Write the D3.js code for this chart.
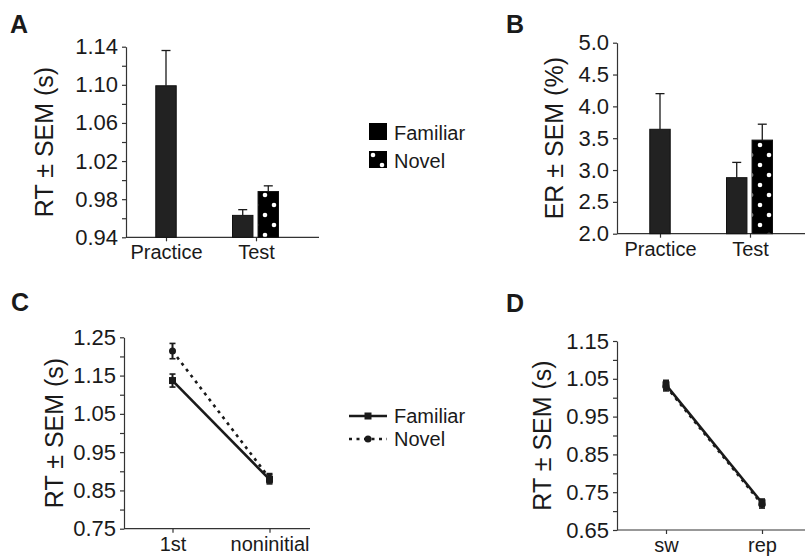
<!DOCTYPE html>
<html lang="en">
<head>
<meta charset="UTF-8" />
<title>RT and ER: Familiar vs Novel</title>
<script src="https://d3js.org/d3.v7.min.js"></script>
<style>
  body { margin: 0; background: #fff; }
  svg { display: block; font-family: "Liberation Sans", Arial, sans-serif; }
  .axis path, .axis line { stroke: #333; stroke-width: 1.2; }
  .axis text { font-size: 20px; fill: #1a1a1a; }
  .yaxis text { font-size: 22px; }
  .ylabel { font-size: 25px; fill: #1a1a1a; }
  .panel-letter { font-size: 25px; font-weight: bold; fill: #1a1a1a; }
  .legend text { font-size: 20px; fill: #1a1a1a; }
</style>
</head>
<body>
<div id="chart"></div>
<script>
// --- data ---
const conditions = ["Familiar", "Novel"];

// A: RT in practice / test blocks
const barCats = ["Practice", "Test"];
const aGroup = ["Practice", "Test", "Test"];
const aCond = ["Familiar", "Familiar", "Novel"];
const aMean = [1.099, 0.963, 0.988];
const aSem = [0.037, 0.006, 0.006];
const aTicks = [0.94, 0.98, 1.02, 1.06, 1.10, 1.14];
const aMinor = [0.96, 1.00, 1.04, 1.08, 1.12];

// B: error rate
const bGroup = ["Practice", "Test", "Test"];
const bCond = ["Familiar", "Familiar", "Novel"];
const bMean = [3.64, 2.88, 3.47];
const bSem = [0.56, 0.24, 0.25];
const bTicks = [2.0, 2.5, 3.0, 3.5, 4.0, 4.5, 5.0];

// C: first vs noninitial trial
const cCats = ["1st", "noninitial"];
const cFamiliar = [1.137, 0.879];
const cNovel = [1.214, 0.882];
const cFamSem = [0.017, 0.012];
const cNovSem = [0.020, 0.012];
const cTicks = [0.75, 0.85, 0.95, 1.05, 1.15, 1.25];
const cMinor = [0.80, 0.90, 1.00, 1.10, 1.20];

// D: switch vs repeat
const dCats = ["sw", "rep"];
const dFamiliar = [1.034, 0.722];
const dNovel = [1.030, 0.718];
const dFamSem = [0.012, 0.010];
const dNovSem = [0.012, 0.010];
const dTicks = [0.65, 0.75, 0.85, 0.95, 1.05, 1.15];
const dMinor = [0.70, 0.80, 0.90, 1.00, 1.10];

const ink = "#1a1a1a";
const W = 805, H = 558;

const svg = d3.select("#chart").append("svg")
  .attr("width", W).attr("height", H);

// dotted fill for the Novel bars
const defs = svg.append("defs");
const pat = defs.append("pattern")
  .attr("id", "dots")
  .attr("patternUnits", "userSpaceOnUse")
  .attr("width", 18).attr("height", 20);
pat.append("rect").attr("width", 18).attr("height", 20).attr("fill", "#000");
pat.append("circle").attr("cx", 4).attr("cy", 5).attr("r", 2.3).attr("fill", "#fff");
pat.append("circle").attr("cx", 13).attr("cy", 15).attr("r", 2.3).attr("fill", "#fff");

// builds axes for one panel, returns scales
function panel(opt) {
  const y = d3.scaleLinear().domain(opt.yDomain).range([opt.bottom, opt.top]);
  const x = d3.scalePoint().domain(opt.cats).range(opt.catRange);

  const g = svg.append("g");

  // y axis, major + minor ticks
  g.append("g").attr("class", "axis yaxis")
    .attr("transform", `translate(${opt.left},0)`)
    .call(d3.axisLeft(y).tickValues(opt.ticks).tickFormat(d3.format(opt.fmt))
      .tickSize(4).tickPadding(4).tickSizeOuter(0));
  if (opt.minor) {
    g.append("g").attr("class", "axis")
      .attr("transform", `translate(${opt.left},0)`)
      .call(d3.axisLeft(y).tickValues(opt.minor).tickFormat("").tickSize(4).tickSizeOuter(0))
      .call(s => s.select(".domain").remove());
  }

  // x axis: long baseline + category ticks
  g.append("line").attr("class", "xbase")
    .attr("x1", opt.left).attr("x2", opt.right)
    .attr("y1", opt.bottom).attr("y2", opt.bottom)
    .attr("stroke", "#333").attr("stroke-width", 1.2);
  g.append("g").attr("class", "axis")
    .attr("transform", `translate(0,${opt.bottom})`)
    .call(d3.axisBottom(x).tickSize(4).tickPadding(4).tickSizeOuter(0))
    .call(s => s.select(".domain").remove());

  // y label
  g.append("text").attr("class", "ylabel")
    .attr("transform", `translate(${opt.labelX},${(opt.top + opt.bottom) / 2}) rotate(-90)`)
    .attr("text-anchor", "middle")
    .text(opt.ylabel);

  // panel letter
  g.append("text").attr("class", "panel-letter")
    .attr("x", opt.letterX).attr("y", opt.letterY)
    .text(opt.letter);

  return { x, y, g };
}

function bars(p, groups, conds, means, sems, base) {
  const off = d3.scaleBand().domain(conditions).range([-23, 23]).paddingInner(0.2);
  const rows = means.map((m, i) => ({ g: groups[i], c: conds[i], m, s: sems[i] }));
  const single = g => groups.filter(v => v === g).length === 1;
  const xPos = d => single(d.g) ? p.x(d.g) - off.bandwidth() / 2 : p.x(d.g) + off(d.c) - 0.5;

  p.g.selectAll("rect.bar").data(rows).join("rect")
    .attr("class", "bar")
    .attr("x", xPos)
    .attr("width", off.bandwidth())
    .attr("y", d => p.y(d.m))
    .attr("height", d => p.y(base) - p.y(d.m))
    .attr("fill", d => d.c === "Novel" ? "url(#dots)" : "#222")
    .attr("stroke", "#111").attr("stroke-width", 1);

  // upward error bars
  const cx = d => xPos(d) + off.bandwidth() / 2;
  p.g.selectAll("line.err").data(rows).join("line")
    .attr("class", "err")
    .attr("x1", cx).attr("x2", cx)
    .attr("y1", d => p.y(d.m)).attr("y2", d => p.y(d.m + d.s))
    .attr("stroke", ink).attr("stroke-width", 1.3);
  p.g.selectAll("line.cap").data(rows).join("line")
    .attr("class", "cap")
    .attr("x1", d => cx(d) - 4.5).attr("x2", d => cx(d) + 4.5)
    .attr("y1", d => p.y(d.m + d.s)).attr("y2", d => p.y(d.m + d.s))
    .attr("stroke", ink).attr("stroke-width", 1.3);
}

function lines(p, cats, series) {
  const line = d3.line().x((d, i) => p.x(cats[i])).y(d => p.y(d));
  series.forEach(s => {
    p.g.append("path").datum(s.values)
      .attr("d", line).attr("fill", "none")
      .attr("stroke", ink).attr("stroke-width", 2.6)
      .attr("stroke-dasharray", s.dash || null);
    s.values.forEach((v, i) => {
      const cx = p.x(cats[i]);
      p.g.append("line")
        .attr("x1", cx).attr("x2", cx)
        .attr("y1", p.y(v - s.sem[i])).attr("y2", p.y(v + s.sem[i]))
        .attr("stroke", ink).attr("stroke-width", 2);
      [v - s.sem[i], v + s.sem[i]].forEach(e => {
        p.g.append("line")
          .attr("x1", cx - 3).attr("x2", cx + 3)
          .attr("y1", p.y(e)).attr("y2", p.y(e))
          .attr("stroke", ink).attr("stroke-width", 1.6);
      });
      if (s.marker === "square") {
        p.g.append("rect").attr("x", cx - 3.5).attr("y", p.y(v) - 3.5)
          .attr("width", 7).attr("height", 7).attr("fill", ink);
      } else {
        p.g.append("circle").attr("cx", cx).attr("cy", p.y(v)).attr("r", 3.5).attr("fill", ink);
      }
    });
  });
}

// Panel A
const pA = panel({
  letter: "A", letterX: 10, letterY: 33,
  left: 126, right: 319, top: 46.7, bottom: 237.3,
  cats: barCats, catRange: [166, 256],
  yDomain: [0.94, 1.14], ticks: aTicks, minor: aMinor, fmt: ".2f",
  ylabel: "RT ± SEM (s)", labelX: 53
});
bars(pA, aGroup, aCond, aMean, aSem, 0.94);

// Panel B
const pB = panel({
  letter: "B", letterX: 506, letterY: 33,
  left: 617, right: 805, top: 42.7, bottom: 233.7,
  cats: barCats, catRange: [660, 750],
  yDomain: [2, 5], ticks: bTicks, fmt: ".1f",
  ylabel: "ER ± SEM (%)", labelX: 563
});
bars(pB, bGroup, bCond, bMean, bSem, 2);

// Panel C
const pC = panel({
  letter: "C", letterX: 11, letterY: 311,
  left: 124, right: 310, top: 337.3, bottom: 528.7,
  cats: cCats, catRange: [172.5, 269.5],
  yDomain: [0.75, 1.25], ticks: cTicks, minor: cMinor, fmt: ".2f",
  ylabel: "RT ± SEM (s)", labelX: 63
});
lines(pC, cCats, [
  { values: cNovel, sem: cNovSem, dash: "3,4.5", marker: "circle" },
  { values: cFamiliar, sem: cFamSem, marker: "square" }
]);

// Panel D
const pD = panel({
  letter: "D", letterX: 506, letterY: 312,
  left: 617, right: 805, top: 341, bottom: 530,
  cats: dCats, catRange: [666, 762],
  yDomain: [0.65, 1.15], ticks: dTicks, minor: dMinor, fmt: ".2f",
  ylabel: "RT ± SEM (s)", labelX: 551
});
lines(pD, dCats, [
  { values: dNovel, sem: dNovSem, dash: "3,4.5", marker: "circle" },
  { values: dFamiliar, sem: dFamSem, marker: "square" }
]);

// legend for bar panels
const legA = svg.append("g").attr("class", "legend");
conditions.forEach((c, i) => {
  const yy = 123 + i * 28;
  legA.append("rect").attr("x", 369).attr("y", yy).attr("width", 18).attr("height", 17)
    .attr("fill", c === "Novel" ? "url(#dots)" : "#000");
  legA.append("text").attr("x", 394).attr("y", yy + 17).text(c);
});

// legend for line panels
const legC = svg.append("g").attr("class", "legend");
conditions.forEach((c, i) => {
  const yy = 416 + i * 23;
  legC.append("line").attr("x1", 349).attr("x2", 387).attr("y1", yy).attr("y2", yy)
    .attr("stroke", ink).attr("stroke-width", 2.6)
    .attr("stroke-dasharray", c === "Novel" ? "3,4.5" : null);
  if (c === "Novel") {
    legC.append("circle").attr("cx", 368).attr("cy", yy).attr("r", 3.5).attr("fill", ink);
  } else {
    legC.append("rect").attr("x", 364.5).attr("y", yy - 3.5).attr("width", 7).attr("height", 7).attr("fill", ink);
  }
  legC.append("text").attr("x", 394).attr("y", yy + 7).text(c);
});
</script>
</body>
</html>
